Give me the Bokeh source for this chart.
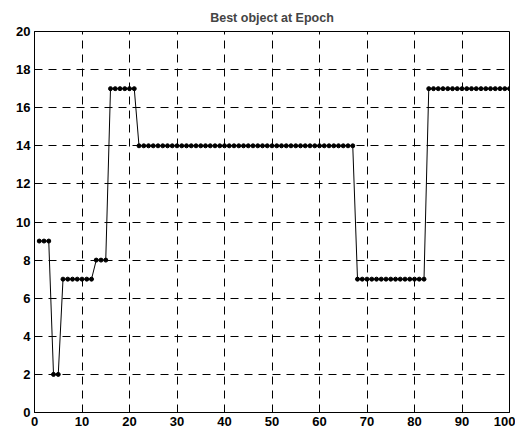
from bokeh.plotting import figure
from bokeh.models import Range1d, FixedTicker
from bokeh.embed import file_html
from bokeh.resources import INLINE

epochs = list(range(1, 101))
best_object = ([9] * 3 + [2] * 2 + [7] * 7 + [8] * 3 + [17] * 6 +
               [14] * 46 + [7] * 15 + [17] * 18)
x_ticks = [0, 10, 20, 30, 40, 50, 60, 70, 80, 90, 100]
y_ticks = [0, 2, 4, 6, 8, 10, 12, 14, 16, 18, 20]

p = figure(width=515, height=432, output_backend="svg", toolbar_location=None,
           x_range=Range1d(0, 100), y_range=Range1d(0, 20),
           min_border_left=34, min_border_right=6, min_border_top=31,
           min_border_bottom=20)
p.title.text = "Best object at Epoch"
p.title.align = "center"
p.title.text_font = "Liberation Sans"
p.title.text_font_size = "12.5px"
p.title.text_font_style = "bold"
p.title.offset = 0
p.title.standoff = 13

p.line(epochs, best_object, line_color="black", line_width=1)
p.scatter(epochs, best_object, size=4, color="black")

for ax, ticks in ((p.xaxis, x_ticks), (p.yaxis, y_ticks)):
    ax.ticker = FixedTicker(ticks=ticks)
    ax.major_label_text_font = "Liberation Sans"
    ax.major_label_text_font_size = "13px"
    ax.major_label_text_font_style = "bold"
    ax.major_label_text_color = "black"
    ax.major_tick_in = 4
    ax.major_tick_out = 0
    ax.minor_tick_line_color = None
    ax.axis_line_color = "black"
    ax.major_tick_line_color = "black"
    ax.major_label_standoff = 4

p.grid.grid_line_color = "black"
p.grid.grid_line_dash = "8 6"
p.grid.grid_line_width = 1
p.outline_line_color = "black"
p.outline_line_alpha = 1
p.outline_line_width = 1
p.background_fill_color = "white"
p.border_fill_color = "white"

open("out.html", "w").write(file_html(p, INLINE))
